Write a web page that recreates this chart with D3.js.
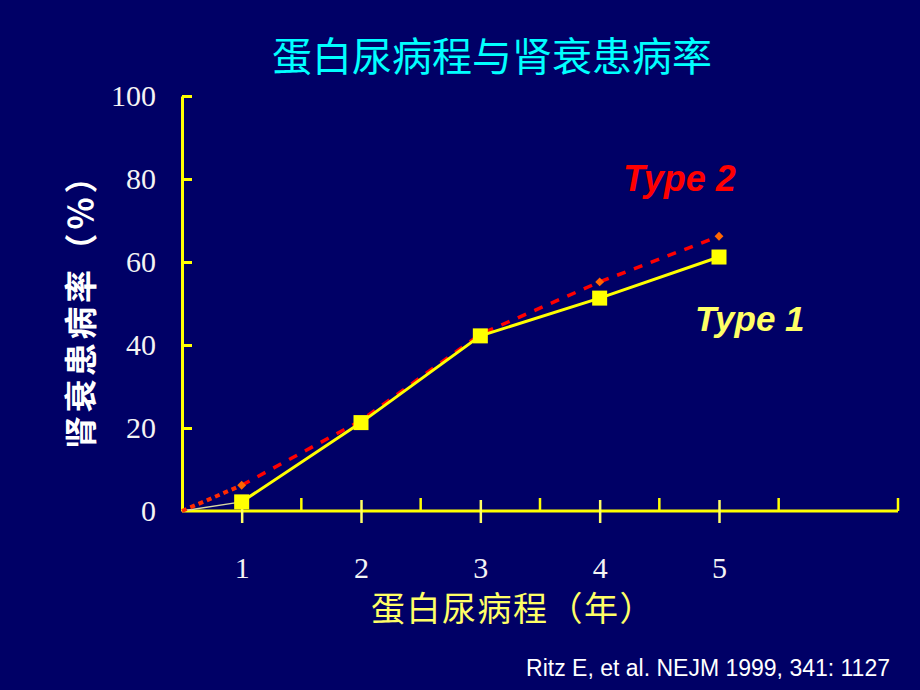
<!DOCTYPE html>
<html>
<head>
<meta charset="utf-8">
<script src="https://cdn.jsdelivr.net/npm/d3@7"></script>
<style>
  html, body { margin: 0; padding: 0; background: #000066; }
  svg { display: block; }
</style>
</head>
<body>
<div id="chart"></div>
<script>
// Data
const years = [1, 2, 3, 4, 5];
const type1 = [2.2, 21.3, 42.2, 51.3, 61.2];
const type2 = [6.2, 21.8, 42.6, 55.2, 66.2];
const origin = { year: 0.5, value: 0 };
const yTicks = [0, 20, 40, 60, 80, 100];
const minorTicks = [1.5, 2.5, 3.5, 4.5, 5.5, 6.5];

const W = 920, H = 690;
const svg = d3.select("#chart").append("svg")
    .attr("width", W)
    .attr("height", H);

svg.append("rect").attr("width", W).attr("height", H).attr("fill", "#000066");

// Scales
const x = d3.scaleLinear().domain([0.5, 6.5]).range([182, 898]);
const y = d3.scaleLinear().domain([0, 100]).range([511, 96]);

const yellow = "#ffff00";

// Title
svg.append("text")
    .attr("x", 492).attr("y", 71)
    .attr("text-anchor", "middle")
    .style("font-family", "'Noto Sans CJK SC'")
    .style("font-size", "40px")
    .style("fill", "#00ffff")
    .text("蛋白尿病程与肾衰患病率");

// Y axis (ticks point inward)
const yAxis = svg.append("g")
    .attr("transform", `translate(${x(0.5)},0)`)
    .call(d3.axisLeft(y).tickValues(yTicks).tickSizeInner(-10).tickSizeOuter(0).tickPadding(26));
yAxis.select(".domain").attr("stroke", yellow).attr("stroke-width", 3);
yAxis.selectAll(".tick line").attr("stroke", yellow).attr("stroke-width", 3);
yAxis.selectAll(".tick text")
    .style("font-family", "'Liberation Serif', serif")
    .style("font-size", "30px")
    .style("fill", "#f4f4f4");
yAxis.selectAll(".tick").filter(d => d === 0).select("line").remove();

// X axis: major ticks cross the line, minor ticks point up
const xAxis = svg.append("g")
    .attr("transform", `translate(0,${y(0)})`)
    .call(d3.axisBottom(x).tickValues(years).tickFormat(d3.format("d"))
        .tickSizeInner(12).tickSizeOuter(0).tickPadding(34));
xAxis.select(".domain").attr("d", `M${x(0.5)},0H${x(6.5)}`)
    .attr("stroke", yellow).attr("stroke-width", 3);
xAxis.selectAll(".tick line").attr("y1", -11).attr("stroke", "#ffff66").attr("stroke-width", 2.5);
xAxis.selectAll(".tick text")
    .style("font-family", "'Liberation Serif', serif")
    .style("font-size", "30px")
    .style("fill", "#f4f4f4");

xAxis.selectAll(".minor")
    .data(minorTicks)
    .enter()
    .append("line")
    .attr("class", "minor")
    .attr("x1", d => x(d)).attr("x2", d => x(d))
    .attr("y1", 0).attr("y2", -13)
    .attr("stroke", yellow)
    .attr("stroke-width", 2.5);

// Axis titles
svg.append("text")
    .attr("transform", "translate(93,303) rotate(-90)")
    .attr("text-anchor", "middle")
    .style("font-family", "'Noto Sans CJK SC'")
    .style("font-size", "33px")
    .style("font-weight", "bold")
    .style("letter-spacing", "3.5px")
    .style("fill", "#ffffff")
    .text("肾衰患病率（％）");

svg.append("text")
    .attr("x", 513).attr("y", 621)
    .attr("text-anchor", "middle")
    .style("font-family", "'Noto Sans CJK SC'")
    .style("font-size", "34px")
    .style("letter-spacing", "1.5px")
    .style("fill", "#ffff66")
    .text("蛋白尿病程（年）");

// Series
const pts1 = years.map((d, i) => ({ year: d, value: type1[i] }));
const pts2 = years.map((d, i) => ({ year: d, value: type2[i] }));
const line = d3.line().x(d => x(d.year)).y(d => y(d.value));

// lead-in segments from the origin
svg.append("path")
    .attr("d", line([origin, pts1[0]]))
    .attr("fill", "none").attr("stroke", "#d8d8a0").attr("stroke-width", 1.5);
svg.append("path")
    .attr("d", line([origin, pts2[0]]))
    .attr("fill", "none").attr("stroke", "#ff2a00").attr("stroke-width", 4)
    .attr("stroke-dasharray", "5,4");

// Type 2 dashed line with diamonds
svg.append("path")
    .attr("d", line(pts2))
    .attr("fill", "none").attr("stroke", "#ff0000").attr("stroke-width", 3.5)
    .attr("stroke-dasharray", "9,9");
svg.selectAll(".diamond")
    .data(pts2)
    .enter()
    .append("path")
    .attr("class", "diamond")
    .attr("d", d3.symbol().type(d3.symbolDiamond2).size(50))
    .attr("transform", d => `translate(${x(d.year)},${y(d.value)})`)
    .attr("fill", "#ff6600");

// Type 1 solid line with squares
svg.append("path")
    .attr("d", line(pts1))
    .attr("fill", "none").attr("stroke", yellow).attr("stroke-width", 3);
svg.selectAll(".square")
    .data(pts1)
    .enter()
    .append("rect")
    .attr("class", "square")
    .attr("x", d => x(d.year) - 7.5)
    .attr("y", d => y(d.value) - 7.5)
    .attr("width", 15).attr("height", 15)
    .attr("fill", yellow);

// Series labels
svg.append("text")
    .attr("x", 623).attr("y", 191)
    .style("font-family", "'Liberation Sans', Arial, sans-serif")
    .style("font-size", "36px")
    .style("font-weight", "bold")
    .style("font-style", "italic")
    .style("fill", "#ff0000")
    .text("Type 2");

svg.append("text")
    .attr("x", 695).attr("y", 331)
    .style("font-family", "'Liberation Sans', Arial, sans-serif")
    .style("font-size", "35px")
    .style("font-weight", "bold")
    .style("font-style", "italic")
    .style("fill", "#ffff66")
    .text("Type 1");

// Citation
svg.append("text")
    .attr("x", 890).attr("y", 676)
    .attr("text-anchor", "end")
    .style("font-family", "'Liberation Sans', Arial, sans-serif")
    .style("font-size", "23px")
    .style("fill", "#ffffff")
    .text("Ritz E, et al. NEJM 1999, 341: 1127");
</script>
</body>
</html>
